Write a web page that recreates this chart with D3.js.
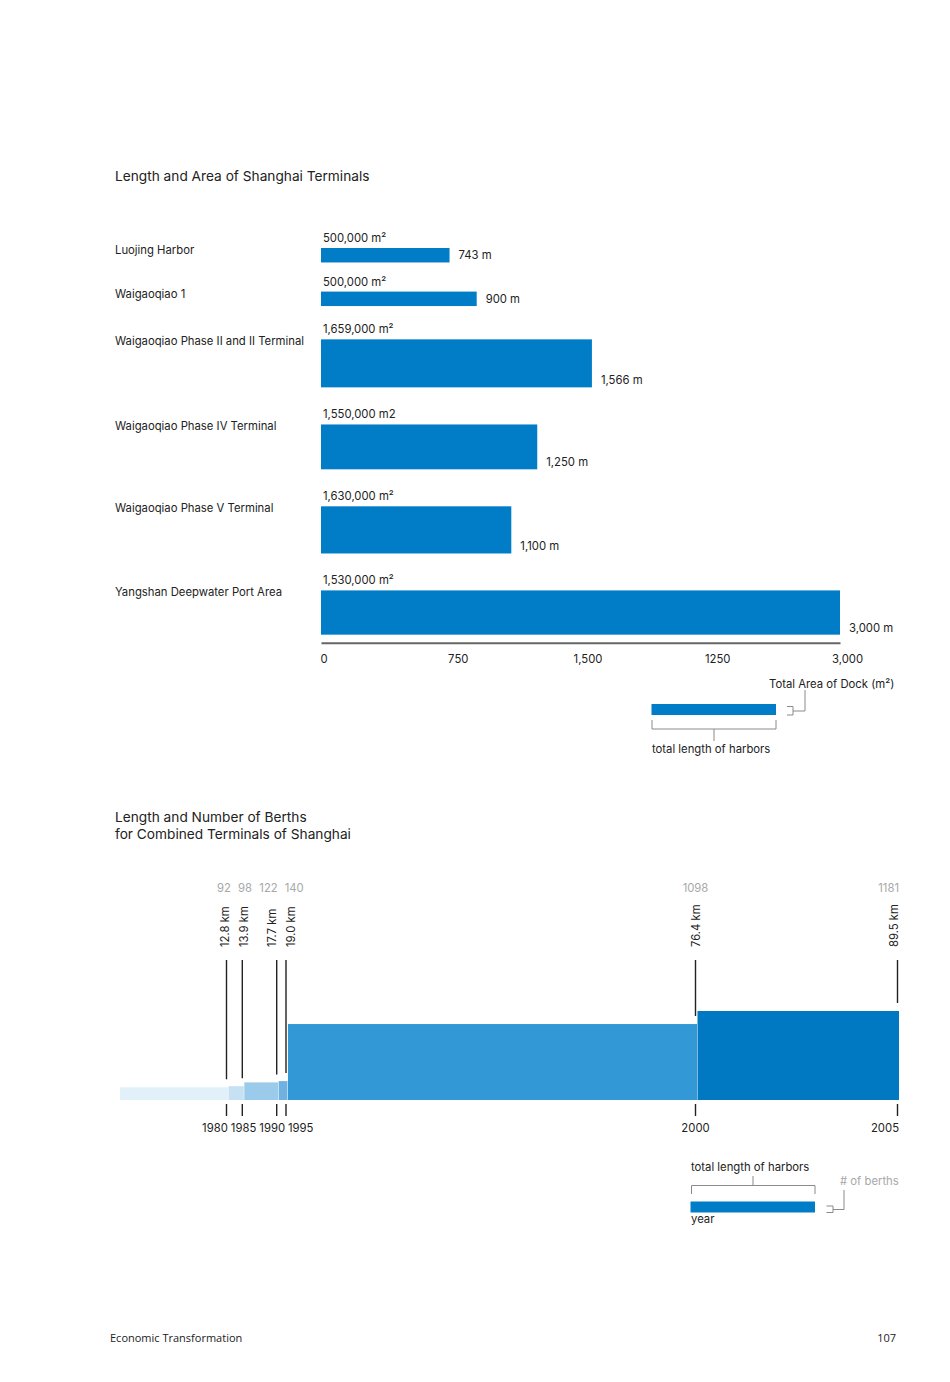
<!DOCTYPE html>
<html><head><meta charset="utf-8">
<script src="https://cdn.jsdelivr.net/npm/d3@7"></script>
<style>
html,body{margin:0;padding:0;background:#fff;}
svg text{font-family:Inter,"Noto Sans",sans-serif;fill:#222;}
</style></head>
<body>
<svg id="c" width="950" height="1382"></svg>
<script>
// ---------- DATA ----------
const terminals = ["Luojing Harbor","Waigaoqiao 1","Waigaoqiao Phase II and II Terminal","Waigaoqiao Phase IV Terminal","Waigaoqiao Phase V Terminal","Yangshan Deepwater Port Area"];
const lengthM = [743, 900, 1566, 1250, 1100, 3000];
const areaM2 = [500000, 500000, 1659000, 1550000, 1630000, 1530000];
const areaLabels = ["500,000 m²","500,000 m²","1,659,000 m²","1,550,000 m2","1,630,000 m²","1,530,000 m²"];
const axisTicks = [0, 750, 1500, 2250, 3000];
const axisTickLabels = ["0","750","1,500","1250","3,000"];

const years = [1980, 1985, 1990, 1995, 2000, 2005];
const harborKm = [12.8, 13.9, 17.7, 19.0, 76.4, 89.5];
const berths = [92, 98, 122, 140, 1098, 1181];

// ---------- LAYOUT ----------
(function(){
const svg = d3.select("#c");
const dark = "#222", grey = "#8a8a8a", blue = "#007dc6";
const FS = "11.3px";

function spread(desired, widths, gap, maxRight){
  const c = desired.slice();
  for(let it=0; it<200; it++){
    let moved=false;
    for(let i=1;i<c.length;i++){
      const need = (widths[i-1]+widths[i])/2 + gap;
      const d = c[i]-c[i-1];
      if(d < need-0.01){ const s=(need-d)/2; c[i-1]-=s; c[i]+=s; moved=true; }
    }
    if(!moved) break;
  }
  if(maxRight!=null){
    for(let i=c.length-1;i>=0;i--){
      if(c[i]+widths[i]/2>maxRight) c[i]=maxRight-widths[i]/2;
      if(i<c.length-1){const lim=c[i+1]-(widths[i]+widths[i+1])/2-gap; if(c[i]>lim) c[i]=lim;}
    }
  }
  return c;
}

// ===== Chart 1 =====
svg.append("text").attr("x",115).attr("y",181).style("font-size","13.7px").text("Length and Area of Shanghai Terminals");

const x1 = d3.scaleLinear().domain([0,3000]).range([321,840]);
const h1 = d3.scaleLinear().domain([0,1659000]).range([0,48]);

const rows = [];
let yTop = 248;
terminals.forEach((t,i)=>{
  const h = h1(areaM2[i]);
  if(i>0){ const hp = h1(areaM2[i-1]); yTop += 25.5 + 0.25*(hp+h)/2; }
  rows.push({name:t, len:lengthM[i], area:areaLabels[i], top:yTop, h});
  yTop += h;
});

const g1 = svg.append("g");
const row = g1.selectAll("g.row").data(rows).join("g").attr("class","row");
row.append("rect").attr("x",x1(0)).attr("y",d=>d.top).attr("width",d=>x1(d.len)-x1(0)).attr("height",d=>d.h).attr("fill",blue);
row.append("text").attr("x",115).attr("y",d=>d.top+6).style("font-size",FS).text(d=>d.name);
row.append("text").attr("x",x1(0)+2).attr("y",d=>d.top-6).style("font-size",FS).text(d=>d.area);
row.append("text").attr("x",d=>x1(d.len)+9).attr("y",d=>d.top+d.h-3).style("font-size",FS).text(d=>d3.format(",")(d.len)+" m");

const axisY = rows[rows.length-1].top + rows[rows.length-1].h + 8;
const ax = svg.append("g").attr("transform",`translate(0,${axisY})`)
  .call(d3.axisBottom(x1).tickValues(axisTicks).tickFormat((d,i)=>axisTickLabels[i]).tickSize(0).tickPadding(12));
ax.select(".domain").attr("stroke","#666").attr("stroke-width",2);
ax.selectAll("text").attr("dx",(d,i)=>i===0?-1:7).attr("text-anchor",(d,i)=>i===0?"start":"middle")
  .style("font-size",FS).style("font-family","Inter,sans-serif").attr("fill",dark);

// legend 1
const L1 = svg.append("g").attr("fill","none").attr("stroke",grey).attr("stroke-width",1);
svg.append("rect").attr("x",651.5).attr("y",704).attr("width",124.5).attr("height",11).attr("fill",blue);
L1.append("path").attr("d","M652,720V729H776V720M714,729V741");
L1.append("path").attr("d","M787,706.5H793V715H787M793,711H805V690");
svg.append("text").attr("x",652).attr("y",753).style("font-size",FS).text("total length of harbors");
svg.append("text").attr("x",769).attr("y",688).style("font-size",FS).text("Total Area of Dock (m²)");

// ===== Chart 2 =====
svg.append("text").attr("x",115).attr("y",822).style("font-size","13.7px").text("Length and Number of Berths");
svg.append("text").attr("x",115).attr("y",839).style("font-size","13.7px").text("for Combined Terminals of Shanghai");

const chartLeft = 120, base = 1100;
const xYear = d3.scaleLinear().domain(years).range([226.5, 242.3, 276.7, 286, 695.5, 897.5]);
const yKm = d3.scaleLinear().domain([0, 89.5]).range([base, base-89]);
const barColors = ["#e2f0fa","#c5e1f3","#9acbea","#6db2e1","#3399d6","#0079c2"];

const g2 = svg.append("g");
years.forEach((yr,i)=>{
  const x0 = i===0 ? chartLeft : xYear(years[i-1]) + 2;
  const x1b = xYear(yr) + 1.5;
  g2.append("rect").attr("x",x0).attr("y",yKm(harborKm[i])).attr("width",x1b-x0).attr("height",base-yKm(harborKm[i])).attr("fill",barColors[i]);
  g2.append("line").attr("x1",xYear(yr)).attr("x2",xYear(yr)).attr("y1",960).attr("y2",yKm(harborKm[i])-8).attr("stroke",dark).attr("stroke-width",1.4);
  g2.append("line").attr("x1",xYear(yr)).attr("x2",xYear(yr)).attr("y1",base+4).attr("y2",base+16).attr("stroke",dark).attr("stroke-width",1.4);
});

// km labels (rotated)
const kmC = spread(years.map(y=>xYear(y)), years.map(()=>11), 8, 899);
years.forEach((yr,i)=>{
  g2.append("text").attr("transform",`translate(${kmC[i]+4},947) rotate(-90)`).style("font-size",FS).text(harborKm[i].toFixed(1)+" km");
});

// berth labels
const bt = g2.selectAll("text.b").data(berths).join("text").attr("class","b").attr("y",892)
  .style("font-size",FS).attr("text-anchor","middle").style("fill","#a8a8a8").text(d=>d);
const bw = bt.nodes().map(n=>n.getComputedTextLength());
const bC = spread(kmC, bw, 7, 899);
bt.attr("x",(d,i)=>bC[i]);

// year labels
const yt = g2.selectAll("text.y").data(years).join("text").attr("class","y").attr("y",1132)
  .style("font-size",FS).attr("text-anchor","middle").text(d=>d);
const yw = yt.nodes().map(n=>n.getComputedTextLength());
const yC = spread(years.map(y=>xYear(y)), yw, 3, 899);
yt.attr("x",(d,i)=>yC[i]);

// legend 2
const L2 = svg.append("g").attr("fill","none").attr("stroke",grey).attr("stroke-width",1);
L2.append("path").attr("d","M691.5,1194V1185.5H815V1194M753,1185.5V1176");
L2.append("path").attr("d","M826.5,1206H833V1212.5H826.5M833,1209.5H844V1190");
svg.append("rect").attr("x",690.5).attr("y",1201.5).attr("width",124.5).attr("height",11).attr("fill",blue);
svg.append("text").attr("x",691).attr("y",1171).style("font-size",FS).text("total length of harbors");
svg.append("text").attr("x",691).attr("y",1223).style("font-size",FS).text("year");
svg.append("text").attr("x",840).attr("y",1185).style("font-size",FS).style("fill","#a8a8a8").text("# of berths");

// footer
svg.append("text").attr("x",110).attr("y",1342).style("font-size","11px").style("font-family","'Open Sans',sans-serif").text("Economic Transformation");
svg.append("text").attr("x",896).attr("y",1342).attr("text-anchor","end").style("font-size","11px").style("font-family","'Open Sans',sans-serif").text("107");
})();
</script>
</body></html>
